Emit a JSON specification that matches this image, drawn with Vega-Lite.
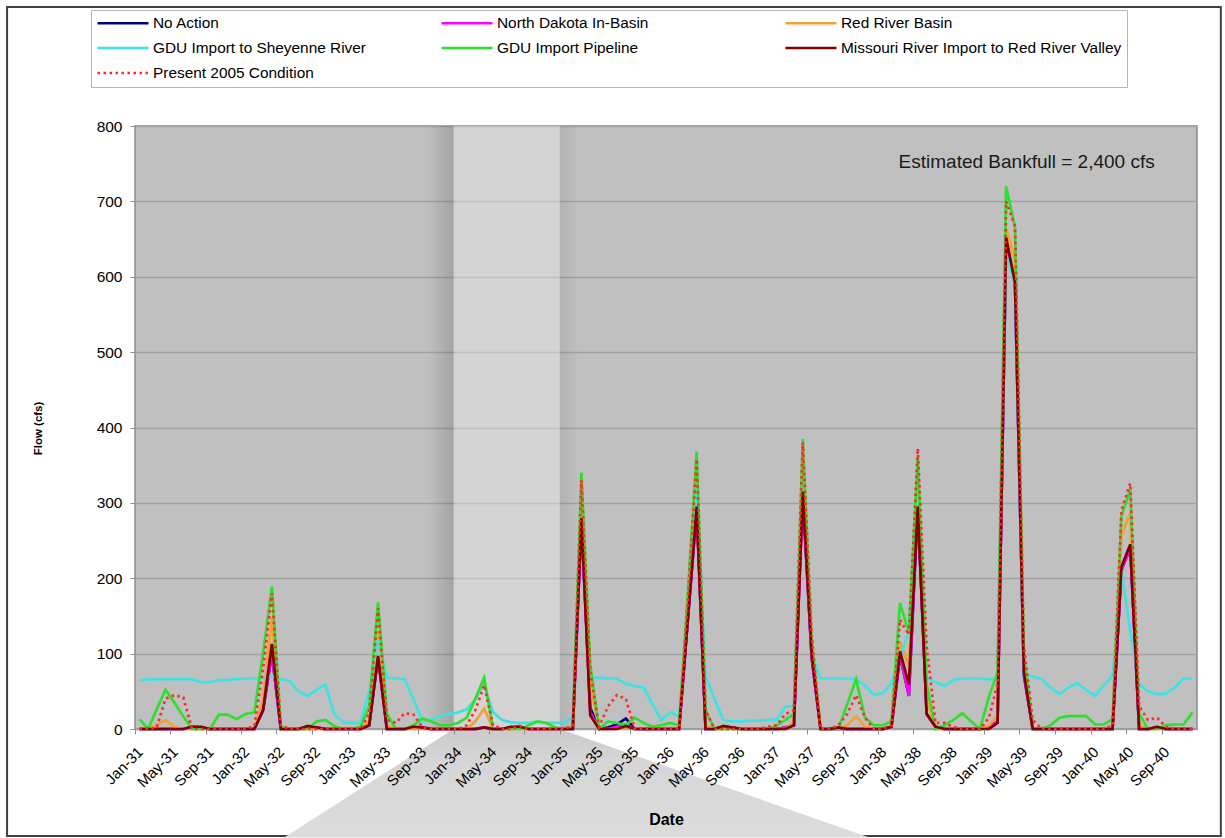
{
 "$schema": "https://vega.github.io/schema/vega-lite/v6.json",
 "width": 1062,
 "height": 603,
 "autosize": {"type": "none"},
 "padding": {"left": 135, "top": 126, "right": 28, "bottom": 109},
 "background": "#ffffff",
 "config": {
  "font": "Liberation Sans",
  "view": {"fill": "#c0c0c0", "stroke": "#8c8c8c", "strokeWidth": 1.5},
  "axis": {"labelFont": "Liberation Sans", "titleFont": "Liberation Sans", "labelColor": "#000000", "titleColor": "#000000"},
  "legend": {
   "orient": "none", "legendX": -44, "legendY": -116, "columns": 3, "direction": "horizontal", "gridAlign": "all",
   "symbolType": "stroke", "symbolSize": 2601, "symbolStrokeWidth": 2.5, "clipHeight": 16,
   "labelOffset": 3, "symbolOffset": 0, "rowPadding": 8, "columnPadding": 6, "padding": 5,
   "strokeColor": "#b4b4b4", "fillColor": "#ffffff", "labelFontSize": 15.4, "labelFont": "Liberation Sans",
   "labelColor": "#000000", "labelLimit": 400
  }
 },
 "layer": [
  {
   "data": {"values": [{}]},
   "mark": {"type": "rect", "fill": "transparent", "stroke": "#404040", "strokeWidth": 2},
   "encoding": {
    "x": {"datum": {"year": 1929, "month": 10, "date": 18}, "type": "temporal", "scale": {"domain": [{"year": 1931, "month": 1, "date": 1}, {"year": 1940, "month": 12, "date": 31, "hours": 23, "minutes": 59}], "nice": false}},
    "x2": {"datum": {"year": 1941, "month": 3, "date": 24}},
    "y": {"datum": -142, "type": "quantitative", "scale": {"domain": [0, 800], "nice": false}},
    "y2": {"datum": 958}
   }
  },
  {
   "data": {"values": [{}]},
   "mark": {"type": "rect", "fill": "#ffffff", "fillOpacity": 0.32},
   "encoding": {
    "x": {"datum": {"year": 1934, "month": 1, "date": 1}, "type": "temporal"},
    "x2": {"datum": {"year": 1935, "month": 1, "date": 1}},
    "y": {"datum": 0, "type": "quantitative"},
    "y2": {"datum": 800}
   }
  },
  {
   "data": {"values": [{}]},
   "mark": {"type": "rect", "fill": {"gradient": "linear", "x1": 0, "y1": 0, "x2": 1, "y2": 0, "stops": [{"offset": 0, "color": "rgba(0,0,0,0)"}, {"offset": 1, "color": "rgba(0,0,0,0.15)"}]}},
   "encoding": {
    "x": {"datum": {"year": 1933, "month": 10, "date": 1}, "type": "temporal"},
    "x2": {"datum": {"year": 1934, "month": 1, "date": 1}},
    "y": {"datum": 0, "type": "quantitative"},
    "y2": {"datum": 800}
   }
  },
  {
   "data": {"values": [{}]},
   "mark": {"type": "rect", "fill": {"gradient": "linear", "x1": 0, "y1": 0, "x2": 1, "y2": 0, "stops": [{"offset": 0, "color": "rgba(0,0,0,0.07)"}, {"offset": 1, "color": "rgba(0,0,0,0)"}]}},
   "encoding": {
    "x": {"datum": {"year": 1935, "month": 1, "date": 1}, "type": "temporal"},
    "x2": {"datum": {"year": 1935, "month": 3, "date": 10}},
    "y": {"datum": 0, "type": "quantitative"},
    "y2": {"datum": 800}
   }
  },
  {
   "data": {"values": [{"v": 0, "from": "1934-01-01", "to": "1935-01-01"}, {"v": -144, "from": "1932-05-28", "to": "1937-12-01"}], "format": {"parse": {"from": "date:'%Y-%m-%d'", "to": "date:'%Y-%m-%d'"}}},
   "mark": {"type": "area", "orient": "horizontal", "fill": {"gradient": "linear", "x1": 0, "y1": 0, "x2": 0, "y2": 1, "stops": [{"offset": 0, "color": "#cacaca"}, {"offset": 0.3, "color": "#d6d6d6"}, {"offset": 1, "color": "#dcdcdc"}]}},
   "encoding": {
    "y": {"field": "v", "type": "quantitative"},
    "x": {"field": "from", "type": "temporal"},
    "x2": {"field": "to"}
   }
  },
  {
   "data": {
    "format": {"parse": {"date": "date:'%Y-%m'"}},
    "values": [
     {"date":"1931-01","na":0,"nd":0,"rr":0,"gs":64,"gp":13,"mr":0,"pc":0},
     {"date":"1931-02","na":0,"nd":0,"rr":0,"gs":66,"gp":0,"mr":0,"pc":0},
     {"date":"1931-03","na":0,"nd":0,"rr":5,"gs":66,"gp":26,"mr":0,"pc":2},
     {"date":"1931-04","na":0,"nd":0,"rr":12,"gs":66,"gp":52,"mr":0,"pc":40},
     {"date":"1931-05","na":0,"nd":0,"rr":3,"gs":66,"gp":35,"mr":0,"pc":45},
     {"date":"1931-06","na":0,"nd":0,"rr":0,"gs":66,"gp":17,"mr":0,"pc":42},
     {"date":"1931-07","na":3,"nd":3,"rr":0,"gs":66,"gp":0,"mr":3,"pc":0},
     {"date":"1931-08","na":2,"nd":2,"rr":0,"gs":62,"gp":0,"mr":3,"pc":0},
     {"date":"1931-09","na":0,"nd":0,"rr":0,"gs":62,"gp":0,"mr":0,"pc":0},
     {"date":"1931-10","na":0,"nd":0,"rr":0,"gs":65,"gp":19,"mr":0,"pc":0},
     {"date":"1931-11","na":0,"nd":0,"rr":0,"gs":65,"gp":19,"mr":0,"pc":0},
     {"date":"1931-12","na":0,"nd":0,"rr":0,"gs":66,"gp":13,"mr":0,"pc":0},
     {"date":"1932-01","na":0,"nd":0,"rr":0,"gs":67,"gp":20,"mr":0,"pc":0},
     {"date":"1932-02","na":0,"nd":0,"rr":0,"gs":67,"gp":22,"mr":0,"pc":4},
     {"date":"1932-03","na":25,"nd":25,"rr":40,"gs":67,"gp":100,"mr":25,"pc":80},
     {"date":"1932-04","na":100,"nd":100,"rr":148,"gs":70,"gp":189,"mr":113,"pc":180},
     {"date":"1932-05","na":0,"nd":0,"rr":0,"gs":66,"gp":3,"mr":0,"pc":5},
     {"date":"1932-06","na":0,"nd":0,"rr":0,"gs":64,"gp":0,"mr":0,"pc":0},
     {"date":"1932-07","na":0,"nd":0,"rr":0,"gs":50,"gp":0,"mr":0,"pc":0},
     {"date":"1932-08","na":3,"nd":3,"rr":0,"gs":44,"gp":0,"mr":4,"pc":0},
     {"date":"1932-09","na":2,"nd":2,"rr":0,"gs":52,"gp":10,"mr":2,"pc":0},
     {"date":"1932-10","na":0,"nd":0,"rr":0,"gs":59,"gp":12,"mr":0,"pc":0},
     {"date":"1932-11","na":0,"nd":0,"rr":0,"gs":20,"gp":4,"mr":0,"pc":0},
     {"date":"1932-12","na":0,"nd":0,"rr":0,"gs":9,"gp":0,"mr":0,"pc":0},
     {"date":"1933-01","na":0,"nd":0,"rr":0,"gs":8,"gp":0,"mr":0,"pc":0},
     {"date":"1933-02","na":0,"nd":0,"rr":0,"gs":8,"gp":3,"mr":0,"pc":0},
     {"date":"1933-03","na":5,"nd":5,"rr":10,"gs":50,"gp":30,"mr":5,"pc":20},
     {"date":"1933-04","na":95,"nd":95,"rr":130,"gs":118,"gp":168,"mr":97,"pc":160},
     {"date":"1933-05","na":0,"nd":0,"rr":5,"gs":68,"gp":20,"mr":0,"pc":12},
     {"date":"1933-06","na":0,"nd":0,"rr":0,"gs":67,"gp":0,"mr":0,"pc":8},
     {"date":"1933-07","na":0,"nd":0,"rr":0,"gs":66,"gp":0,"mr":0,"pc":21},
     {"date":"1933-08","na":2,"nd":2,"rr":0,"gs":39,"gp":5,"mr":3,"pc":19},
     {"date":"1933-09","na":2,"nd":2,"rr":0,"gs":10,"gp":14,"mr":2,"pc":2},
     {"date":"1933-10","na":0,"nd":0,"rr":0,"gs":13,"gp":10,"mr":0,"pc":0},
     {"date":"1933-11","na":0,"nd":0,"rr":0,"gs":17,"gp":5,"mr":0,"pc":0},
     {"date":"1933-12","na":0,"nd":0,"rr":0,"gs":20,"gp":5,"mr":0,"pc":0},
     {"date":"1934-01","na":0,"nd":0,"rr":0,"gs":22,"gp":8,"mr":0,"pc":0},
     {"date":"1934-02","na":0,"nd":0,"rr":0,"gs":26,"gp":15,"mr":0,"pc":5},
     {"date":"1934-03","na":0,"nd":0,"rr":10,"gs":39,"gp":40,"mr":0,"pc":25},
     {"date":"1934-04","na":2,"nd":2,"rr":27,"gs":60,"gp":68,"mr":2,"pc":58},
     {"date":"1934-05","na":0,"nd":0,"rr":0,"gs":22,"gp":0,"mr":0,"pc":5},
     {"date":"1934-06","na":0,"nd":0,"rr":0,"gs":12,"gp":0,"mr":0,"pc":0},
     {"date":"1934-07","na":2,"nd":2,"rr":0,"gs":9,"gp":0,"mr":3,"pc":0},
     {"date":"1934-08","na":3,"nd":3,"rr":0,"gs":8,"gp":0,"mr":3,"pc":4},
     {"date":"1934-09","na":0,"nd":0,"rr":0,"gs":8,"gp":5,"mr":0,"pc":0},
     {"date":"1934-10","na":0,"nd":0,"rr":0,"gs":10,"gp":10,"mr":0,"pc":0},
     {"date":"1934-11","na":0,"nd":0,"rr":0,"gs":8,"gp":8,"mr":0,"pc":0},
     {"date":"1934-12","na":0,"nd":0,"rr":0,"gs":8,"gp":2,"mr":0,"pc":0},
     {"date":"1935-01","na":0,"nd":0,"rr":0,"gs":8,"gp":0,"mr":0,"pc":0},
     {"date":"1935-02","na":0,"nd":0,"rr":0,"gs":17,"gp":3,"mr":0,"pc":5},
     {"date":"1935-03","na":275,"nd":275,"rr":300,"gs":300,"gp":340,"mr":280,"pc":330},
     {"date":"1935-04","na":28,"nd":22,"rr":60,"gs":68,"gp":85,"mr":18,"pc":75},
     {"date":"1935-05","na":0,"nd":0,"rr":0,"gs":68,"gp":0,"mr":0,"pc":3},
     {"date":"1935-06","na":2,"nd":0,"rr":0,"gs":67,"gp":10,"mr":0,"pc":30},
     {"date":"1935-07","na":6,"nd":3,"rr":0,"gs":67,"gp":8,"mr":0,"pc":45},
     {"date":"1935-08","na":14,"nd":6,"rr":3,"gs":60,"gp":5,"mr":4,"pc":40},
     {"date":"1935-09","na":0,"nd":0,"rr":0,"gs":57,"gp":15,"mr":0,"pc":0},
     {"date":"1935-10","na":0,"nd":0,"rr":0,"gs":55,"gp":8,"mr":0,"pc":0},
     {"date":"1935-11","na":0,"nd":0,"rr":0,"gs":33,"gp":3,"mr":0,"pc":0},
     {"date":"1935-12","na":0,"nd":0,"rr":0,"gs":12,"gp":5,"mr":0,"pc":0},
     {"date":"1936-01","na":0,"nd":0,"rr":0,"gs":22,"gp":8,"mr":0,"pc":0},
     {"date":"1936-02","na":0,"nd":0,"rr":0,"gs":17,"gp":5,"mr":0,"pc":0},
     {"date":"1936-03","na":145,"nd":145,"rr":160,"gs":150,"gp":180,"mr":145,"pc":170},
     {"date":"1936-04","na":290,"nd":290,"rr":330,"gs":320,"gp":368,"mr":295,"pc":358},
     {"date":"1936-05","na":0,"nd":0,"rr":5,"gs":70,"gp":25,"mr":0,"pc":25},
     {"date":"1936-06","na":0,"nd":0,"rr":0,"gs":40,"gp":0,"mr":0,"pc":0},
     {"date":"1936-07","na":3,"nd":3,"rr":0,"gs":12,"gp":0,"mr":4,"pc":0},
     {"date":"1936-08","na":2,"nd":2,"rr":0,"gs":10,"gp":0,"mr":2,"pc":0},
     {"date":"1936-09","na":0,"nd":0,"rr":0,"gs":10,"gp":0,"mr":0,"pc":0},
     {"date":"1936-10","na":0,"nd":0,"rr":0,"gs":11,"gp":0,"mr":0,"pc":0},
     {"date":"1936-11","na":0,"nd":0,"rr":0,"gs":11,"gp":0,"mr":0,"pc":0},
     {"date":"1936-12","na":0,"nd":0,"rr":0,"gs":12,"gp":0,"mr":0,"pc":3},
     {"date":"1937-01","na":0,"nd":0,"rr":0,"gs":12,"gp":5,"mr":0,"pc":5},
     {"date":"1937-02","na":2,"nd":2,"rr":0,"gs":30,"gp":12,"mr":0,"pc":20},
     {"date":"1937-03","na":5,"nd":5,"rr":10,"gs":30,"gp":20,"mr":5,"pc":25},
     {"date":"1937-04","na":310,"nd":310,"rr":360,"gs":340,"gp":385,"mr":315,"pc":380},
     {"date":"1937-05","na":95,"nd":95,"rr":110,"gs":100,"gp":120,"mr":100,"pc":125},
     {"date":"1937-06","na":0,"nd":0,"rr":0,"gs":67,"gp":0,"mr":0,"pc":0},
     {"date":"1937-07","na":0,"nd":0,"rr":0,"gs":67,"gp":0,"mr":0,"pc":0},
     {"date":"1937-08","na":0,"nd":0,"rr":0,"gs":67,"gp":0,"mr":2,"pc":5},
     {"date":"1937-09","na":0,"nd":0,"rr":5,"gs":67,"gp":33,"mr":0,"pc":20},
     {"date":"1937-10","na":0,"nd":0,"rr":17,"gs":66,"gp":66,"mr":0,"pc":45},
     {"date":"1937-11","na":0,"nd":0,"rr":3,"gs":58,"gp":15,"mr":0,"pc":15},
     {"date":"1937-12","na":0,"nd":0,"rr":0,"gs":45,"gp":5,"mr":0,"pc":0},
     {"date":"1938-01","na":0,"nd":0,"rr":0,"gs":48,"gp":5,"mr":0,"pc":0},
     {"date":"1938-02","na":3,"nd":3,"rr":3,"gs":60,"gp":10,"mr":3,"pc":5},
     {"date":"1938-03","na":97,"nd":97,"rr":116,"gs":95,"gp":167,"mr":103,"pc":145},
     {"date":"1938-04","na":44,"nd":44,"rr":83,"gs":130,"gp":128,"mr":59,"pc":125},
     {"date":"1938-05","na":295,"nd":295,"rr":355,"gs":340,"gp":360,"mr":295,"pc":372},
     {"date":"1938-06","na":20,"nd":20,"rr":40,"gs":68,"gp":60,"mr":20,"pc":110},
     {"date":"1938-07","na":3,"nd":3,"rr":0,"gs":62,"gp":0,"mr":3,"pc":8},
     {"date":"1938-08","na":0,"nd":0,"rr":0,"gs":57,"gp":5,"mr":0,"pc":8},
     {"date":"1938-09","na":0,"nd":0,"rr":0,"gs":65,"gp":12,"mr":0,"pc":3},
     {"date":"1938-10","na":0,"nd":0,"rr":0,"gs":67,"gp":21,"mr":0,"pc":0},
     {"date":"1938-11","na":0,"nd":0,"rr":0,"gs":67,"gp":10,"mr":0,"pc":0},
     {"date":"1938-12","na":0,"nd":0,"rr":0,"gs":67,"gp":0,"mr":0,"pc":0},
     {"date":"1939-01","na":3,"nd":3,"rr":5,"gs":66,"gp":43,"mr":0,"pc":15},
     {"date":"1939-02","na":10,"nd":10,"rr":18,"gs":65,"gp":75,"mr":8,"pc":60},
     {"date":"1939-03","na":645,"nd":645,"rr":665,"gs":630,"gp":720,"mr":652,"pc":700},
     {"date":"1939-04","na":590,"nd":590,"rr":622,"gs":590,"gp":665,"mr":592,"pc":667},
     {"date":"1939-05","na":72,"nd":72,"rr":85,"gs":72,"gp":100,"mr":75,"pc":110},
     {"date":"1939-06","na":0,"nd":0,"rr":0,"gs":70,"gp":0,"mr":0,"pc":12},
     {"date":"1939-07","na":0,"nd":0,"rr":0,"gs":66,"gp":0,"mr":0,"pc":0},
     {"date":"1939-08","na":0,"nd":0,"rr":0,"gs":55,"gp":5,"mr":0,"pc":0},
     {"date":"1939-09","na":0,"nd":0,"rr":0,"gs":46,"gp":15,"mr":0,"pc":0},
     {"date":"1939-10","na":0,"nd":0,"rr":0,"gs":55,"gp":17,"mr":0,"pc":0},
     {"date":"1939-11","na":0,"nd":0,"rr":0,"gs":61,"gp":17,"mr":0,"pc":0},
     {"date":"1939-12","na":0,"nd":0,"rr":0,"gs":52,"gp":17,"mr":0,"pc":0},
     {"date":"1940-01","na":0,"nd":0,"rr":0,"gs":44,"gp":6,"mr":0,"pc":0},
     {"date":"1940-02","na":0,"nd":0,"rr":0,"gs":58,"gp":6,"mr":0,"pc":0},
     {"date":"1940-03","na":0,"nd":0,"rr":0,"gs":70,"gp":13,"mr":0,"pc":5},
     {"date":"1940-04","na":211,"nd":211,"rr":256,"gs":210,"gp":282,"mr":215,"pc":290},
     {"date":"1940-05","na":240,"nd":240,"rr":287,"gs":130,"gp":318,"mr":245,"pc":326},
     {"date":"1940-06","na":0,"nd":0,"rr":5,"gs":60,"gp":20,"mr":0,"pc":30},
     {"date":"1940-07","na":0,"nd":0,"rr":0,"gs":50,"gp":0,"mr":0,"pc":12},
     {"date":"1940-08","na":2,"nd":2,"rr":0,"gs":46,"gp":0,"mr":3,"pc":15},
     {"date":"1940-09","na":0,"nd":0,"rr":0,"gs":47,"gp":5,"mr":0,"pc":3},
     {"date":"1940-10","na":0,"nd":0,"rr":0,"gs":55,"gp":6,"mr":0,"pc":0},
     {"date":"1940-11","na":0,"nd":0,"rr":0,"gs":67,"gp":6,"mr":0,"pc":0},
     {"date":"1940-12","na":0,"nd":0,"rr":0,"gs":67,"gp":22,"mr":0,"pc":0}
    ]
   },
   "transform": [{"fold": ["na", "nd", "rr", "gs", "gp", "mr", "pc"], "as": ["key", "flow"]}],
   "mark": {"type": "line", "strokeWidth": 2.7},
   "encoding": {
    "x": {
     "field": "date", "timeUnit": "yearmonth", "type": "temporal", "bandPosition": 0.5,
     "axis": {"title": "Date", "titleFontSize": 16, "titleFontWeight": "bold", "titleY": 90, "titleBaseline": "middle",
      "format": "%b-%y", "tickCount": {"interval": "month", "step": 4}, "labelAngle": -45, "labelFontSize": 15,
      "labelOverlap": false, "labelFlush": false, "labelBound": false, "labelPadding": 10, "tickSize": 5, "tickColor": "#8c8c8c",
      "tickWidth": 1, "domain": false, "grid": false, "zindex": 1}
    },
    "y": {
     "field": "flow", "type": "quantitative",
     "axis": {"title": "Flow (cfs)", "titleFontSize": 11.5, "titleFontWeight": "bold", "titleX": -97, "titleY": 302,
      "titleAlign": "center", "titleBaseline": "middle", "titleAngle": 270,
      "values": [0, 100, 200, 300, 400, 500, 600, 700, 800], "labelFontSize": 15.5, "labelPadding": 8, "tickSize": 5,
      "tickColor": "#8c8c8c", "domain": false, "grid": true, "gridColor": "#a2a2a2", "gridWidth": 1.5}
    },
    "color": {
     "field": "key", "type": "nominal",
     "scale": {"domain": ["na", "nd", "rr", "gs", "gp", "mr", "pc"], "range": ["#000080", "#ff00ff", "#f5a033", "#3de3e3", "#2ee02e", "#800000", "#ff2a2a"]},
     "legend": {"title": null, "labelExpr": "datum.label == 'na' ? 'No Action' : datum.label == 'nd' ? 'North Dakota In-Basin' : datum.label == 'rr' ? 'Red River Basin' : datum.label == 'gs' ? 'GDU Import to Sheyenne River' : datum.label == 'gp' ? 'GDU Import Pipeline' : datum.label == 'mr' ? 'Missouri River Import to Red River Valley' : 'Present 2005 Condition'"}
    },
    "strokeDash": {
     "field": "key", "type": "nominal",
     "scale": {"domain": ["na", "nd", "rr", "gs", "gp", "mr", "pc"], "range": [[1, 0], [1, 0], [1, 0], [1, 0], [1, 0], [1, 0], [2.5, 3.5]]},
     "legend": {"title": null, "labelExpr": "datum.label == 'na' ? 'No Action' : datum.label == 'nd' ? 'North Dakota In-Basin' : datum.label == 'rr' ? 'Red River Basin' : datum.label == 'gs' ? 'GDU Import to Sheyenne River' : datum.label == 'gp' ? 'GDU Import Pipeline' : datum.label == 'mr' ? 'Missouri River Import to Red River Valley' : 'Present 2005 Condition'"}
    }
   }
  },
  {
   "data": {"values": [{}]},
   "mark": {"type": "text", "text": "Estimated Bankfull = 2,400 cfs", "fontSize": 19, "font": "Liberation Sans", "color": "#1a1a1a", "align": "center", "baseline": "middle"},
   "encoding": {
    "x": {"datum": {"year": 1939, "month": 5, "date": 26}, "type": "temporal"},
    "y": {"datum": 752, "type": "quantitative"}
   }
  }
 ]
}
